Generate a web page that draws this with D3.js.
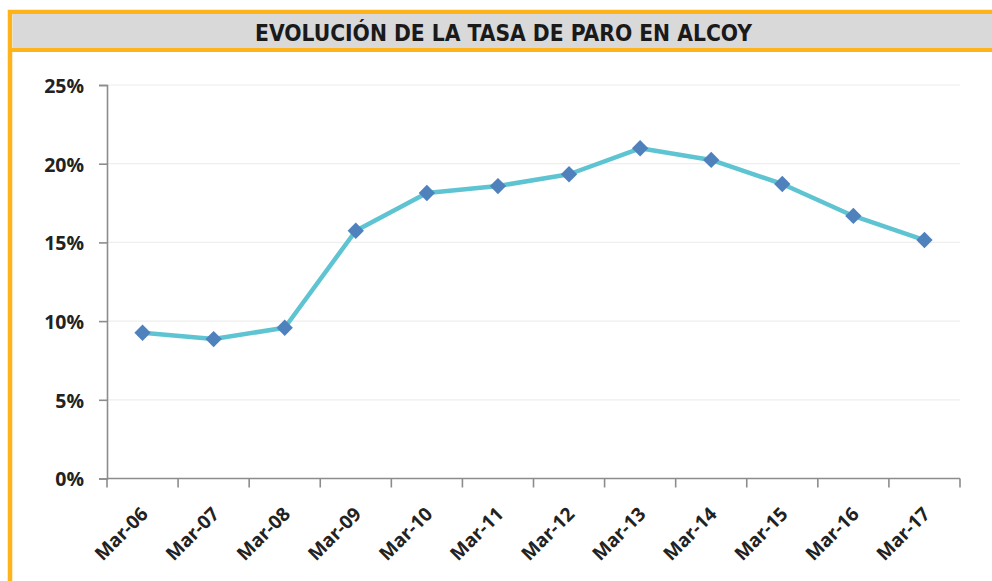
<!DOCTYPE html>
<html>
<head>
<meta charset="utf-8">
<script src="https://cdn.jsdelivr.net/npm/d3@7"></script>
<style>
  body { margin: 0; background: #fff; }
  svg { display: block; }
</style>
</head>
<body>
<div class="graph"></div>
<script>
// datos
const months = ['Mar-06','Mar-07','Mar-08','Mar-09','Mar-10','Mar-11','Mar-12','Mar-13','Mar-14','Mar-15','Mar-16','Mar-17']
const paro = [9.26, 8.86, 9.58, 15.74, 18.14, 18.58, 19.33, 20.98, 20.24, 18.71, 16.68, 15.15]
const yTicks = [0, 5, 10, 15, 20, 25]
const title = 'EVOLUCIÓN DE LA TASA DE PARO EN ALCOY'

const W = 992, H = 581
const orange = '#FFB31A'
const plot = { left: 107, right: 960, top: 85, bottom: 478.5 }
const labelFont = 'Open Sans, Arial, sans-serif'

const svg = d3.select('.graph').append('svg').attr('width', W).attr('height', H)

// marco naranja + banda de título
svg.append('rect').attr('x', 10).attr('y', 12).attr('width', W).attr('height', H + 20)
  .attr('fill', 'none').attr('stroke', orange).attr('stroke-width', 4.5)
svg.append('rect').attr('x', 12.5).attr('y', 14).attr('width', W).attr('height', 34)
  .attr('fill', '#D9D9D9')
svg.append('line').attr('x1', 10).attr('x2', W).attr('y1', 50).attr('y2', 50)
  .attr('stroke', orange).attr('stroke-width', 4)

svg.append('text').attr('x', 503.5).attr('y', 41)
  .attr('text-anchor', 'middle')
  .attr('font-family', 'Liberation Sans Narrow, DejaVu Sans Condensed, Arial, sans-serif')
  .attr('font-weight', 'bold').attr('font-size', 23).attr('fill', '#1a1a1a')
  .attr('textLength', 497).attr('lengthAdjust', 'spacingAndGlyphs')
  .text(title)

const x = d3.scaleBand().domain(months).range([plot.left, plot.right])
const y = d3.scaleLinear().domain([0, 25]).range([plot.bottom, plot.top])

// rejilla
svg.append('g').selectAll('line').data(yTicks.slice(1)).enter().append('line')
  .attr('x1', plot.left).attr('x2', plot.right)
  .attr('y1', d => y(d)).attr('y2', d => y(d))
  .attr('stroke', '#EEEEEE').attr('stroke-width', 1.2)

// eje Y
const yAxis = svg.append('g').attr('transform', `translate(${plot.left},0)`)
  .call(d3.axisLeft(y).tickValues(yTicks).tickSize(8).tickPadding(15).tickFormat(d => d + '%'))
yAxis.select('.domain').attr('stroke', '#8C8C8C').attr('stroke-width', 1.6)
yAxis.selectAll('.tick line').attr('stroke', '#8C8C8C').attr('stroke-width', 1.6)
yAxis.selectAll('.tick text').attr('font-family', labelFont)
  .attr('font-weight', 'bold').attr('font-size', 19.5).attr('fill', '#222').attr('dy', '0.38em')

// eje X: marcas en los límites de cada categoría
const xg = svg.append('g')
xg.append('line').attr('x1', plot.left).attr('x2', plot.right)
  .attr('y1', plot.bottom).attr('y2', plot.bottom)
  .attr('stroke', '#8C8C8C').attr('stroke-width', 1.6)
const bounds = months.map(m => x(m)).concat([x(months[months.length - 1]) + x.bandwidth()])
xg.selectAll('.tk').data(bounds).enter().append('line')
  .attr('x1', d => d).attr('x2', d => d)
  .attr('y1', plot.bottom).attr('y2', plot.bottom + 9)
  .attr('stroke', '#8C8C8C').attr('stroke-width', 1.6)
xg.selectAll('text').data(months).enter().append('text')
  .attr('transform', d => `translate(${x(d) + x.bandwidth() / 2 + 2},${plot.bottom + 32}) rotate(-45)`)
  .attr('text-anchor', 'end').attr('dy', '0.35em')
  .attr('font-family', labelFont)
  .attr('font-weight', 'bold').attr('font-size', 19).attr('fill', '#222')
  .text(d => d)

// serie
const cx = (d, i) => x(months[i]) + x.bandwidth() / 2
const line = d3.line().x(cx).y(d => y(d))
svg.append('path').datum(paro).attr('d', line)
  .attr('fill', 'none').attr('stroke', '#5EC4D2').attr('stroke-width', 4.5)
  .attr('stroke-linejoin', 'round')

svg.append('g').selectAll('path').data(paro).enter().append('path')
  .attr('d', d3.symbol().type(d3.symbolDiamond2).size(170))
  .attr('transform', (d, i) => `translate(${cx(d, i)},${y(d)})`)
  .attr('fill', '#4F81BD')
</script>
</body>
</html>
